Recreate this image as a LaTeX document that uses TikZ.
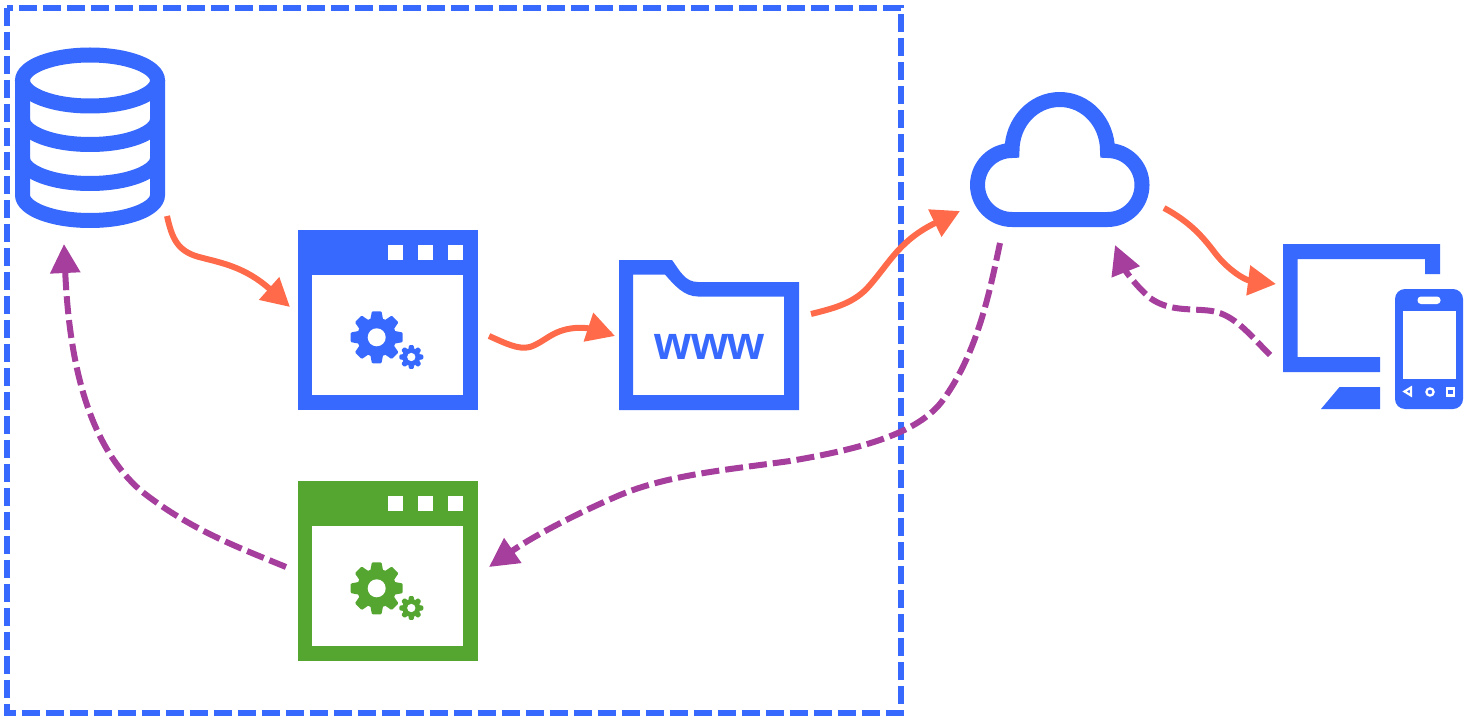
\documentclass[tikz,border=0pt]{standalone}
\usepackage{fontspec}
\setsansfont{Liberation Sans}
\usetikzlibrary{arrows.meta}
\definecolor{iconblue}{RGB}{56,105,255}
\definecolor{icongreen}{RGB}{84,166,48}
\definecolor{floworange}{RGB}{255,107,74}
\definecolor{flowpurple}{RGB}{165,62,156}
\tikzset{
  iconbox/.style={inner sep=0pt,outer sep=0pt,minimum width=#1},
  frameline/.style={draw=iconblue,line width=6pt,dash pattern=on 18pt off 6pt},
  request/.style={draw=floworange,line width=6pt,-{Triangle[length=28pt,width=29pt]}},
  response/.style={draw=flowpurple,line width=6pt,dash pattern=on 18pt off 6pt,-{Triangle[length=29pt,width=29pt]}},
  pics/gearwheel/.style={code={
    \foreach \ang in {0,45,...,315}
      \fill[#1,rotate=\ang,rounded corners=1pt] (17,-6.5) -- (26,-4.8) -- (26,4.8) -- (17,6.5) -- cycle;
    \fill[#1] (0,0) circle (19.5);
    \fill[white] (0,0) circle (9);
  }},
  pics/appwindow/.style={code={
    \fill[#1] (-90,-90) rectangle (90,90);
    \fill[white] (-76,-45) rectangle (75,75);
    \foreach \sx in {-0.5,29.5,59.5}
      \fill[white] (\sx,-75) rectangle +(15.5,15);
    \pic at (-11.3,17.3) {gearwheel=#1};
    \pic[scale=.46] at (23.3,37) {gearwheel=#1};
  }},
}
\begin{document}
\begin{tikzpicture}[x=1pt,y=-1pt]
  \useasboundingbox (0,0) rectangle (1471,722);
  \draw[frameline] (7,8) rectangle (901,713);

  \node[iconbox=150pt,minimum height=180pt] (database) at (90,138) {};
  \draw[iconblue,line width=15pt] (90,80.5) ellipse [x radius=67.5,y radius=25.5];
  \draw[iconblue,line width=15pt] (22.5,80) -- (22.5,195) arc[start angle=180,end angle=0,x radius=67.5,y radius=25.5] -- (157.5,80);
  \foreach \by in {119,158}
    \draw[iconblue,line width=15pt] (22.5,\by) arc[start angle=180,end angle=0,x radius=67.5,y radius=25.5];

  \node[iconbox=180pt,minimum height=180pt] (appblue) at (388,320) {};
  \pic at (appblue) {appwindow=iconblue};
  \node[iconbox=180pt,minimum height=180pt] (appgreen) at (388,571) {};
  \pic at (appgreen) {appwindow=icongreen};

  \node[iconbox=180pt,minimum height=150pt] (folder) at (709,335) {};
  \fill[iconblue,even odd rule] (619,260) -- (672,260) .. controls (680,271) and (685,282) .. (698,282) -- (799,282) -- (799,410) -- (619,410) -- cycle
    (633,274.5) -- (665,274.5) .. controls (674,285) and (684,296.5) .. (698,296.5) -- (784,296.5) -- (784,395) -- (633,395) -- cycle;
  \node[text=iconblue,font=\sffamily\bfseries\fontsize{47.5}{47.5}\selectfont,inner sep=0pt] (wwwlabel) at (709.5,347) {www};

  \node[iconbox=180pt,minimum height=135pt] (cloud) at (1060,159.5) {};
  \draw[iconblue,line width=15pt,miter limit=4] (1012,219.5) arc[start angle=90,end angle=270,radius=34.5]
    arc[start angle=180,end angle=360,x radius=47.75,y radius=51]
    arc[start angle=270,end angle=450,radius=34.5] -- cycle;

  \node[iconbox=180pt,minimum height=165pt] (device) at (1373,326.5) {};
  \fill[iconblue] (1283,244) -- (1440,244) -- (1440,274) -- (1425,274) -- (1425,259) -- (1297.5,259) -- (1297.5,357) -- (1380,357) -- (1380,372) -- (1283,372) -- cycle;
  \fill[iconblue] (1339.5,387) -- (1380,387) -- (1380,409) -- (1321,409) -- cycle;
  \fill[iconblue,rounded corners=10pt] (1395,289) rectangle (1463,409);
  \fill[white] (1402.5,311) rectangle (1455.5,379);
  \fill[white,rounded corners=3.5pt] (1417.5,296.5) rectangle (1440.5,304);
  \draw[white,line width=2.2pt] (1404.5,391.5) -- (1411,387.5) -- (1411,395.5) -- cycle;
  \draw[white,line width=2.2pt] (1430,392) circle (3.6);
  \draw[white,line width=2.2pt] (1447,388.5) rectangle (1454,395.5);

  \coordinate (dbout) at ([shift={(2,-12)}]database.south east);
  \coordinate (dbin) at (64,244);
  \coordinate (appbluein) at ([shift={(-8,-13)}]appblue.west);
  \coordinate (appblueout) at (489,336);
  \coordinate (folderin) at (615,336);
  \coordinate (folderout) at (811,314);
  \coordinate (cloudin) at (960,211);
  \coordinate (cloudout) at (1164,208);
  \coordinate (cloudreply) at (1000,243);
  \coordinate (cloudback) at (1115,245);
  \coordinate (devicein) at (1276,284);
  \coordinate (deviceout) at (1270,355);
  \coordinate (appgreenin) at (489,567);
  \coordinate (appgreenout) at (286,567);

  \draw[request] (dbout) .. controls (172,238) and (177,251) .. (199,257) .. controls (222,263) and (245,267) .. (appbluein);
  \draw[request] (appblueout) .. controls (505,343) and (518,350) .. (530,347) .. controls (545,342) and (552,330) .. (575,328) .. controls (590,327) and (600,331) .. (folderin);
  \draw[request] (folderout) .. controls (835,308) and (855,303) .. (870,285) .. controls (890,262) and (900,240) .. (cloudin);
  \draw[request] (cloudout) .. controls (1190,222) and (1203,237) .. (1215,253) .. controls (1228,270) and (1245,280) .. (devicein);
  \draw[response] (deviceout) .. controls (1250,335) and (1235,315) .. (1212,311) .. controls (1190,308) and (1170,312) .. (1150,298) .. controls (1135,285) and (1125,270) .. (cloudback);
  \draw[response] (cloudreply) .. controls (990,290) and (978,352) .. (943,400) .. controls (918,434) and (860,449) .. (790,461) .. controls (725,470) and (668,475) .. (620,495) .. controls (580,512) and (535,535) .. (appgreenin);
  \draw[response] (appgreenout) .. controls (240,548) and (190,530) .. (140,490) .. controls (95,450) and (70,380) .. (dbin);
\end{tikzpicture}
\end{document}
